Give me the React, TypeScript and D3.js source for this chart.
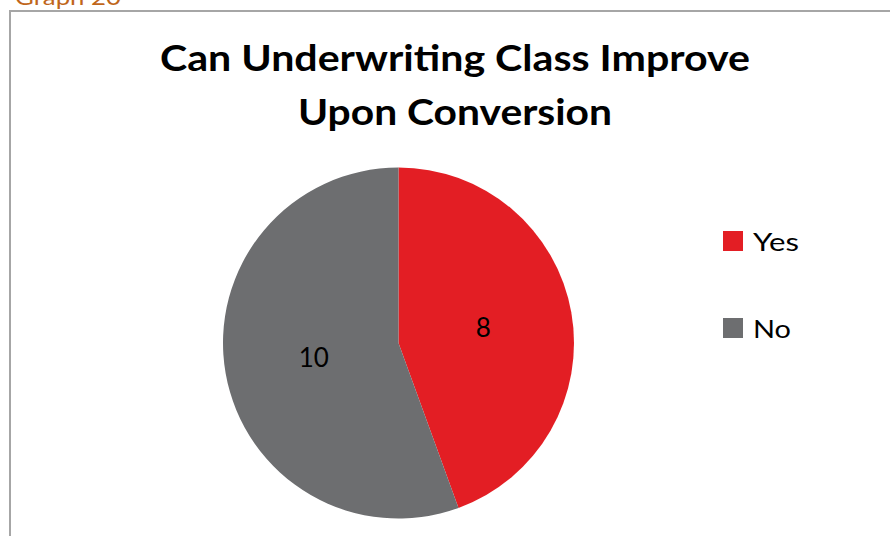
import React from "react";
import * as d3 from "d3";

const categories = ["Yes", "No"];
const values = [8, 10];
const colors = ["#E31E24", "#6D6E70"];
const titleLines = ["Can Underwriting Class Improve", "Upon Conversion"];
const caption = "Graph 20";

const W = 890;
const H = 536;

export default function App() {
  const cx = 398.5;
  const cy = 343;
  const r = 175.5;
  const pie = d3.pie<number>().sort(null).value((d) => d)(values);
  const arc = d3.arc<d3.PieArcDatum<number>>().innerRadius(0).outerRadius(r);
  const labelArc = d3.arc<d3.PieArcDatum<number>>().innerRadius(r * 0.49).outerRadius(r * 0.49);
  const font = "Lato, 'Open Sans', sans-serif";
  const titleWidths = [590, 314];
  const legendWidths = [46, 38];
  return (
    <svg width={W} height={H} style={{ position: "fixed", left: 0, top: 0, background: "#fff" }}>
      <rect x={0} y={0} width={W} height={H} fill="#fff" />
      <text x={15} y={5} fontFamily={font} fontSize={21} fill="#C0661A" textLength={106} lengthAdjust="spacingAndGlyphs">{caption}</text>
      <path d={`M10,${H} V11 H${W}`} fill="none" stroke="#A6A6A6" strokeWidth={2} />
      {titleLines.map((t, i) => (
        <text key={i} x={455} y={71 + i * 54} textAnchor="middle" fontFamily={font} fontWeight={700} fontSize={37}
          fill="#000" textLength={titleWidths[i]} lengthAdjust="spacingAndGlyphs">
          {t}
        </text>
      ))}
      <g transform={`translate(${cx},${cy})`}>
        {pie.map((p, i) => (
          <path key={i} d={arc(p) || ""} fill={colors[i]} />
        ))}
        {pie.map((p, i) => {
          const [x, y] = labelArc.centroid(p);
          return (
            <text key={i} x={x} y={y} dy="0.35em" textAnchor="middle" fontFamily={font} fontSize={26} fill="#000">
              {values[i]}
            </text>
          );
        })}
      </g>
      {categories.map((c, i) => (
        <g key={c} transform={`translate(723,${231 + i * 87})`}>
          <rect x={0} y={0} width={20} height={20} fill={colors[i]} />
          <text x={30} y={20} fontFamily={font} fontSize={25} fill="#000" textLength={legendWidths[i]} lengthAdjust="spacingAndGlyphs">{c}</text>
        </g>
      ))}
    </svg>
  );
}
